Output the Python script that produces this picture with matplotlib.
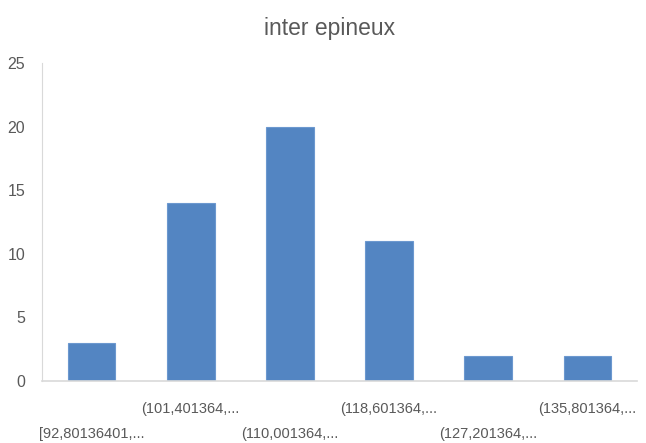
import matplotlib
matplotlib.use("Agg")
import matplotlib.pyplot as plt

plt.rcParams["font.family"] = ["Liberation Sans", "DejaVu Sans"]

title = "inter epineux"
categories = [
    "[92,80136401,...",
    "(101,401364,...",
    "(110,001364,...",
    "(118,601364,...",
    "(127,201364,...",
    "(135,801364,...",
]
counts = [3, 14, 20, 11, 2, 2]
y_ticks = [0, 5, 10, 15, 20, 25]

text_grey = "#595959"
line_grey = "#d9d9d9"
bar_blue = "#5385c2"

fig = plt.figure(figsize=(6.46, 4.43), dpi=100)
ax = fig.add_axes([0.065, 0.140, 0.921, 0.718])

x = list(range(len(categories)))
ax.bar(x, counts, width=0.48, color=bar_blue, edgecolor="#6c98cf", linewidth=0.8)

ax.set_xlim(-0.5, len(categories) - 0.5)
ax.set_ylim(0, 25)
ax.set_yticks(y_ticks)
ax.set_xticks(x)
ax.set_xticklabels(categories, fontsize=10.5, color=text_grey)
ax.tick_params(axis="y", labelsize=11.5, labelcolor=text_grey, length=0, pad=12)
ax.tick_params(axis="x", length=0)

# staggered labels like Excel does
for i, tick in enumerate(ax.xaxis.get_major_ticks()):
    tick.set_pad(33 if i % 2 == 0 else 15)

for side in ["top", "right"]:
    ax.spines[side].set_visible(False)
ax.spines["left"].set_color(line_grey)
ax.spines["bottom"].set_color(line_grey)
ax.spines["bottom"].set_linewidth(1.2)

fig.text(0.51, 0.935, title, ha="center", va="center", fontsize=16.5, color=text_grey)

fig.savefig("out.png", dpi=100)
